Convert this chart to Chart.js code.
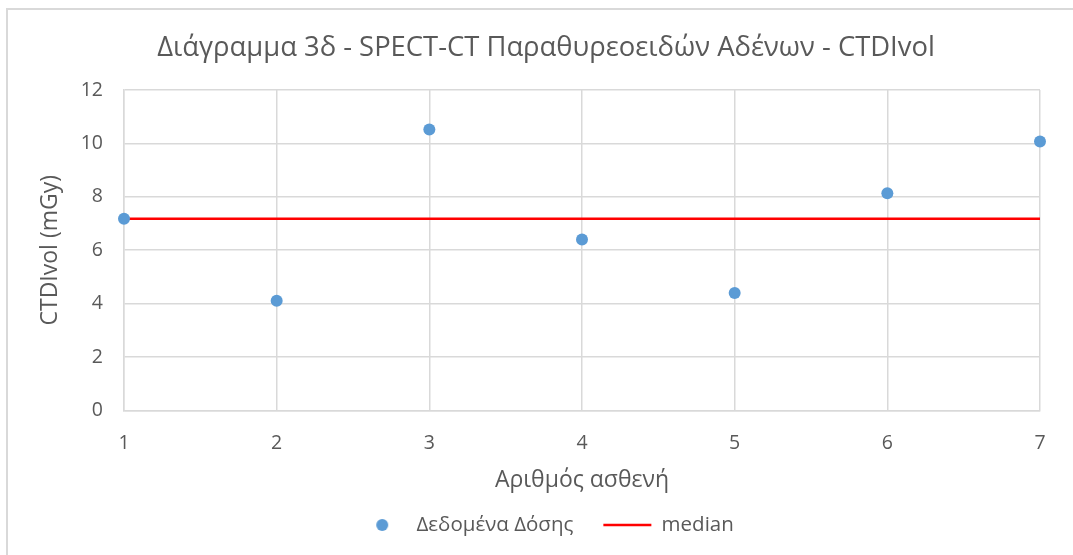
<!DOCTYPE html>
<html>
<head>
<meta charset="utf-8">
<script src="https://cdn.jsdelivr.net/npm/chart.js@4"></script>
<style>
  html, body { margin: 0; padding: 0; background: #fff; }
  #wrap { width: 1073px; height: 555px; }
</style>
</head>
<body>
<div id="wrap"><canvas id="doseChart" width="1073" height="555"></canvas></div>
<script>
// patient numbers and CTDIvol values (mGy)
const patients = [1, 2, 3, 4, 5, 6, 7];
const doseValues = [7.18, 4.11, 10.52, 6.40, 4.40, 8.13, 10.07];
const medianValue = 7.18;

const chartTitle = 'Διάγραμμα 3δ - SPECT-CT Παραθυρεοειδών Αδένων - CTDIvol';
const xTitle = 'Αριθμός ασθενή';
const yTitle = 'CTDIvol (mGy)';
const seriesLabels = ['Δεδομένα Δόσης', 'median'];

const textColor = '#595959';
const gridColor = '#d9d9d9';
const dotColor = '#5b9bd5';
const fontFamily = '"Open Sans", "Noto Sans", sans-serif';

// little dot image for the legend, so the circle keeps its shape next to the wide line marker
function makeDot() {
    const c = document.createElement('canvas');
    c.width = 14; c.height = 14;
    const g = c.getContext('2d');
    g.fillStyle = dotColor;
    g.beginPath();
    g.arc(7, 7, 6, 0, Math.PI * 2);
    g.fill();
    return c;
}
const legendDot = makeDot();

const frame = {
    id: 'frame',
    beforeDraw(chart) {
        const ctx = chart.ctx;
        ctx.save();
        ctx.fillStyle = '#fff';
        ctx.fillRect(0, 0, chart.width, chart.height);
        ctx.strokeStyle = gridColor;
        ctx.lineWidth = 2;
        ctx.beginPath();
        ctx.moveTo(7, chart.height);
        ctx.lineTo(7, 9);
        ctx.lineTo(chart.width, 9);
        ctx.stroke();
        ctx.restore();
    }
};

const ctx = document.getElementById('doseChart').getContext('2d');
new Chart(ctx, {
    type: 'scatter',
    data: {
        datasets: [
            {
                label: seriesLabels[0],
                data: patients.map((p, i) => ({ x: p, y: doseValues[i] })),
                backgroundColor: dotColor,
                borderWidth: 0,
                pointRadius: 6,
                clip: false
            },
            {
                type: 'line',
                label: seriesLabels[1],
                data: patients.map(p => ({ x: p, y: medianValue })),
                borderColor: '#ff0000',
                backgroundColor: '#ff0000',
                borderWidth: 2.5,
                pointRadius: 0,
                fill: false
            }
        ]
    },
    options: {
        responsive: false,
        animation: false,
        layout: { padding: { left: 52, right: 33, top: 0, bottom: 9.75 } },
        scales: {
            x: {
                type: 'linear',
                min: 1,
                max: 7,
                ticks: { stepSize: 1, color: textColor, padding: 21, font: { family: fontFamily, size: 19.5 } },
                grid: { color: gridColor, lineWidth: 1.5, drawTicks: false },
                border: { color: gridColor, width: 1.5 },
                title: {
                    display: true, text: xTitle, color: textColor,
                    font: { family: fontFamily, size: 23 },
                    padding: { top: 0, bottom: -10 }
                },
                afterFit(scale) { scale.height = 74.25; }
            },
            y: {
                min: 0,
                max: 12,
                ticks: { stepSize: 2, color: textColor, padding: 21, font: { family: fontFamily, size: 19.5 } },
                grid: { color: gridColor, lineWidth: 1.5, drawTicks: false },
                border: { color: gridColor, width: 1.5 },
                title: {
                    display: true, text: yTitle, color: textColor,
                    font: { family: fontFamily, size: 23 },
                    padding: { top: -15.8, bottom: 0 }
                },
                afterFit(scale) { scale.width = 72; }
            }
        },
        plugins: {
            title: {
                display: true,
                text: chartTitle,
                color: textColor,
                font: { family: fontFamily, size: 27.4, weight: 'normal' },
                padding: { top: 31.6, bottom: 25.5 }
            },
            legend: {
                position: 'bottom',
                labels: {
                    color: textColor,
                    font: { family: fontFamily, size: 20.5 },
                    usePointStyle: true,
                    pointStyleWidth: 48,
                    boxHeight: 8,
                    padding: 30,
                    generateLabels(chart) {
                        return chart.data.datasets.map((ds, i) => ({
                            text: ds.label,
                            fontColor: textColor,
                            fillStyle: ds.backgroundColor,
                            strokeStyle: i === 0 ? dotColor : '#ff0000',
                            lineWidth: i === 0 ? 0 : 2.5,
                            pointStyle: i === 0 ? legendDot : 'line',
                            datasetIndex: i
                        }));
                    }
                }
            },
            tooltip: { enabled: false }
        }
    },
    plugins: [frame]
});
</script>
</body>
</html>
